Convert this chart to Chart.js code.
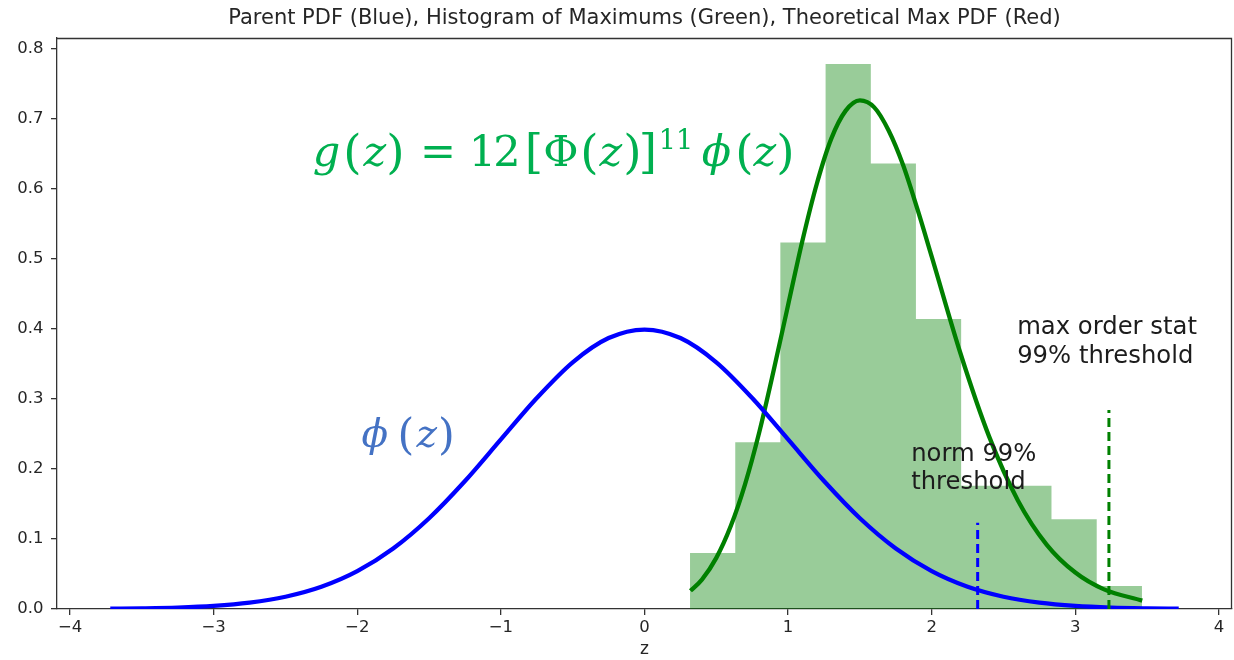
<!DOCTYPE html>
<html>
<head>
<meta charset="utf-8">
<script src="https://cdn.jsdelivr.net/npm/chart.js@4.4.1/dist/chart.umd.min.js"></script>
<style>
  html, body { margin: 0; padding: 0; background: #ffffff; }
  #wrap { width: 1234px; height: 660px; }
</style>
</head>
<body>
<div id="wrap"><canvas id="chart" width="1234" height="660"></canvas></div>
<script>
// Parent standard normal pdf phi(z)
const parentZ   = [-3.72, -3.5, -3.25, -3.0, -2.75, -2.5, -2.25, -2.0, -1.75, -1.5, -1.25, -1.0, -0.75, -0.5, -0.25,
                   0.0, 0.25, 0.5, 0.75, 1.0, 1.25, 1.5, 1.75, 2.0, 2.25, 2.5, 2.75, 3.0, 3.25, 3.5, 3.72];
const parentPdf = [0.0004, 0.0009, 0.0020, 0.0044, 0.0091, 0.0175, 0.0317, 0.0540, 0.0863, 0.1295, 0.1826, 0.2420, 0.3011, 0.3521, 0.3867,
                   0.3989, 0.3867, 0.3521, 0.3011, 0.2420, 0.1826, 0.1295, 0.0863, 0.0540, 0.0317, 0.0175, 0.0091, 0.0044, 0.0020, 0.0009, 0.0004];

// Theoretical pdf of the maximum of 12 draws, g(z)
const maxZ   = [0.32, 0.4, 0.5, 0.6, 0.7, 0.8, 0.9, 1.0, 1.1, 1.2, 1.3, 1.4, 1.5, 1.6, 1.7, 1.8, 1.9, 2.0,
                2.2, 2.4, 2.6, 2.8, 3.0, 3.2, 3.466];
const maxPdf = [0.026, 0.042, 0.073, 0.118, 0.178, 0.253, 0.341, 0.434, 0.526, 0.607, 0.671, 0.711, 0.726, 0.716, 0.683, 0.634, 0.571, 0.503,
                0.365, 0.246, 0.155, 0.092, 0.052, 0.028, 0.012];

// Histogram of simulated maximums (density)
const binEdges   = [0.317, 0.632, 0.946, 1.261, 1.576, 1.890, 2.205, 2.520, 2.834, 3.149, 3.464];
const binDensity = [0.080, 0.238, 0.523, 0.778, 0.636, 0.414, 0.176, 0.176, 0.128, 0.033];

// 99% thresholds
const normThreshold = [2.32, 0.123];   // [z, height of marker]
const maxThreshold  = [3.234, 0.284];

// Axis ticks
const xTicks = [-4, -3, -2, -1, 0, 1, 2, 3, 4];
const yTicks = [0.0, 0.1, 0.2, 0.3, 0.4, 0.5, 0.6, 0.7, 0.8];

const chartTitle = 'Parent PDF (Blue), Histogram of Maximums (Green), Theoretical Max PDF (Red)';

const toPoints = (xs, ys) => xs.map((x, i) => ({ x: x, y: ys[i] }));

// Step outline of the histogram bars
const histOutline = [];
binDensity.forEach((h, i) => {
  histOutline.push({ x: binEdges[i], y: h });
  histOutline.push({ x: binEdges[i + 1], y: h });
});

const INK = '#262626';

// Title over the axes, frame, free-floating labels and formula overlays
const decorations = {
  id: 'decorations',
  afterDraw(chart) {
    const { ctx, chartArea: a, scales } = chart;
    const px = v => scales.x.getPixelForValue(v);
    const py = v => scales.y.getPixelForValue(v);
    ctx.save();

    // title centred over the plotting area
    ctx.fillStyle = INK;
    ctx.font = '21px "DejaVu Sans"';
    ctx.textAlign = 'center';
    ctx.textBaseline = 'middle';
    ctx.fillText(chartTitle, (a.left + a.right) / 2, a.top - 19);

    // top / right spines
    ctx.strokeStyle = '#333333';
    ctx.lineWidth = 1.3;
    ctx.beginPath();
    ctx.moveTo(a.left, a.top + 0.5);
    ctx.lineTo(a.right - 0.5, a.top + 0.5);
    ctx.lineTo(a.right - 0.5, a.bottom);
    ctx.stroke();

    // plain text labels
    ctx.fillStyle = '#1c1c1c';
    ctx.font = '24.3px "DejaVu Sans"';
    ctx.textAlign = 'left';
    ctx.textBaseline = 'alphabetic';
    const lines = (arr, x, y, gap) => arr.forEach((t, i) => ctx.fillText(t, px(x), py(y) + i * gap));
    lines(['max order stat', '99% threshold'], 2.595, 0.392, 29);
    lines(['norm 99%', 'threshold'], 1.857, 0.211, 27.5);

    // formula overlays: [glyph, centre offset, italic, size, raise]
    const drawGlyphs = (glyphs, x0, base, size, color) => {
      ctx.fillStyle = color;
      ctx.textAlign = 'center';
      glyphs.forEach(g => {
        const s = g[3] || size;
        ctx.font = (g[2] ? 'italic ' : '') + s + 'px "DejaVu Serif"';
        ctx.fillText(g[0], x0 + g[1], base - (g[4] || 0));
      });
    };
    drawGlyphs([
      ['g', 13.5, true], ['(', 39.5, false, 47, -2], ['z', 62, true], [')', 82.5, false, 47, -2],
      ['=', 125],
      ['1', 169.5], ['2', 194], ['[', 221, false, 47, -2], ['\u03A6', 248], ['(', 276.5, false, 47, -2], ['z', 298, true],
      [')', 319.5, false, 47, -2], [']', 335, false, 47, -2],
      ['11', 363, false, 27, 17],
      ['\u03D5', 403.5, true], ['(', 431.5, false, 47, -2], ['z', 452, true], [')', 472.5, false, 47, -2]
    ], px(-2.309), py(0.633), 43, '#00B050');

    drawGlyphs([
      ['\u03D5', 13, true], ['(', 44, false, 43, -2], ['z', 65, true], [')', 84.5, false, 43, -2]
    ], px(-1.968), py(0.231), 39, '#4472C4');

    ctx.restore();
  }
};

new Chart(document.getElementById('chart'), {
  type: 'line',
  data: {
    datasets: [
      { label: 'norm 99% threshold', data: toPoints([normThreshold[0], normThreshold[0]], [0, normThreshold[1]]),
        borderColor: '#0000FF', borderWidth: 3, borderDash: [9, 5], pointRadius: 0, fill: false },
      { label: 'max 99% threshold', data: toPoints([maxThreshold[0], maxThreshold[0]], [0, maxThreshold[1]]),
        borderColor: '#008000', borderWidth: 3, borderDash: [9, 5], pointRadius: 0, fill: false },
      { label: 'Parent PDF', data: toPoints(parentZ, parentPdf),
        borderColor: '#0000FF', borderWidth: 4.3, cubicInterpolationMode: 'monotone', pointRadius: 0, fill: false },
      { label: 'Theoretical Max PDF', data: toPoints(maxZ, maxPdf),
        borderColor: '#008000', borderWidth: 4.3, cubicInterpolationMode: 'monotone', pointRadius: 0, fill: false },
      { label: 'Histogram of Maximums', data: histOutline,
        borderColor: 'rgba(0,0,0,0)', borderWidth: 0, backgroundColor: 'rgba(0,128,0,0.4)',
        pointRadius: 0, fill: 'origin', tension: 0 }
    ]
  },
  options: {
    responsive: false,
    animation: false,
    devicePixelRatio: 1,
    layout: { padding: { left: 0, right: 2, top: 38, bottom: 0 } },
    plugins: {
      legend: { display: false },
      tooltip: { enabled: false },
      title: { display: false }
    },
    scales: {
      x: {
        type: 'linear',
        min: -4.091, max: 4.091,
        afterBuildTicks: s => { s.ticks = xTicks.map(v => ({ value: v })); },
        afterFit: s => { s.height = 51; },
        ticks: {
          color: INK, padding: 3, maxRotation: 0, autoSkip: false,
          font: { family: '"DejaVu Sans"', size: 16.5 },
          callback: v => (v < 0 ? '\u2212' + Math.abs(v) : String(v))
        },
        grid: { drawOnChartArea: false, drawTicks: true, tickLength: 6, color: '#333333', lineWidth: 1.3 },
        border: { display: true, color: '#333333', width: 1.3 },
        title: { display: true, text: 'z', color: INK,
                 font: { family: '"DejaVu Sans"', size: 17, lineHeight: 1.2 }, padding: { top: 0, bottom: 0 } }
      },
      y: {
        type: 'linear',
        min: 0, max: 0.815,
        afterBuildTicks: s => { s.ticks = yTicks.map(v => ({ value: v })); },
        afterFit: s => { s.width = 57; },
        ticks: {
          color: INK, padding: 7.5, autoSkip: false,
          font: { family: '"DejaVu Sans"', size: 16.5 },
          callback: v => Number(v).toFixed(1)
        },
        grid: { drawOnChartArea: false, drawTicks: true, tickLength: 6, color: '#333333', lineWidth: 1.3 },
        border: { display: true, color: '#333333', width: 1.3 }
      }
    }
  },
  plugins: [decorations]
});
</script>
</body>
</html>
